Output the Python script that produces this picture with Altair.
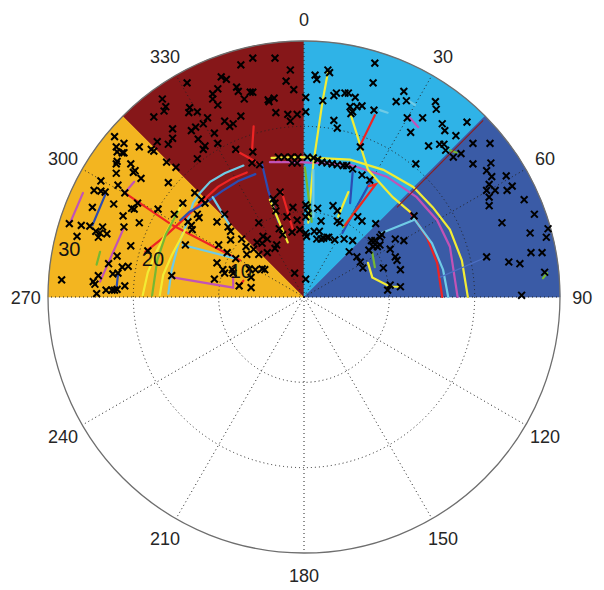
import math
import altair as alt
import pandas as pd

# ---------------- data ----------------
R_MAX = 30
RINGS = [10, 20]
SPOKE_ANGLES = list(range(0, 360, 30))
ANGLE_LABEL_R = 32.6

SECTOR_NAME = ["W-NW", "NW-N", "N-NE", "NE-E"]
SECTOR_START = [270, 315, 0, 45]
SECTOR_END = [315, 360, 45, 90]
SECTOR_COLOR = ["#F3B520", "#861719", "#2FB3E7", "#3A5BA6"]

RING_LABEL_TEXT = ["10", "20", "30"]
RING_LABEL_EAST = [-7.4, -17.7, -27.5]
RING_LABEL_NORTH = [2.9, 4.3, 5.5]

# detections (east, north) in range units
PT_EAST = [
    -22.2, -21.1, -22.0, -21.9, -21.3, -21.1, -19.3, -17.9, -17.6, -21.9,
    -22.0, -20.3, -20.0, -19.8, -22.0, -19.1, -23.8, -21.8, -15.9, -24.6,
    -23.8, -23.3, -21.0, -19.5, -22.3, -20.2, -19.9, -17.1, -24.8, -21.2,
    -27.5, -26.1, -25.1, -23.6, -24.4, -23.9, -23.1, -21.1, -19.3, -26.6,
    -24.1, -20.3, -18.3, -21.9, -22.9, -21.3, -20.6, -22.4, -21.8, -24.1,
    -24.7, -24.5, -28.4, -21.0, -23.2, -22.5, -22.2, -21.9, -24.3,
    -16.1, -15.0, -12.8, -14.2, -12.0, -11.6, -15.2, -12.5, -12.3, -13.6,
    -13.2, -13.1, -10.2, -8.9, -8.6, -8.6, -7.3, -10.0, -6.8, -13.9,
    -6.7, -9.0, -8.0, -10.2, -9.5, -9.3, -8.4, -8.3, -6.4, -5.7,
    -4.9, -4.6, -6.2, -10.5, -7.6, -6.2, -15.5,
    -6.0, -3.4, -7.4, -1.6, -2.1, -13.7, -9.7, -9.1, -7.9, -7.7,
    -10.1, -6.3, -6.0, -1.2, -10.7, -10.7, -7.0, -4.2, -4.1, -3.5,
    -16.6, -16.2, -16.4, -13.4, -10.1, -12.5, -13.5, -3.3, -1.9, -0.8,
    -7.4, -17.6, -11.3, -9.3, -8.3, -8.7, -11.8, -12.7, -13.2, -15.4,
    -10.5, -1.6, -15.4, -12.4, -17.2, -15.9, -10.1, -11.6, -11.8, -8.0,
    -6.0, -12.5, -6.1, -5.2, -3.0, -2.3, -1.5, -0.7, -1.4, -0.8,
    -2.8, -3.4, -3.6, -1.3, -3.3, -2.0, -5.3, -5.5, -4.8, -4.3,
    -4.9, -2.9, -2.5, -1.4, -0.5, -3.2, -3.4, -5.9, -5.3, -4.3,
    -1.1, -9.3, -0.8,
    8.3, 0.2, 0.2, 1.3, 1.5, 2.8, 3.0, 8.1, 2.2, 3.5,
    3.8, 4.8, 5.2, 6.0, 5.4, 5.7, 5.5, 6.2, 6.8, 8.2,
    3.5, 3.9, 6.6, 11.7, 10.8, 12.0, 12.1, 13.9, 12.5, 14.6,
    15.4, 15.5, 13.1, 16.2, 16.5, 17.8, 15.9, 16.4, 16.6, 17.5,
    18.4, 19.1, 0.4, 1.1, 1.6, 2.1, 2.7, 3.3, 3.9, 4.6,
    5.0, 5.7, 6.8, 7.7, 0.2, 0.4, 1.6, 0.5, 3.4, 3.9,
    2.0, 3.9, 4.2, 6.3, 6.8, 8.4, 0.2, 0.3, 1.2, 1.8,
    1.5, 2.0, 2.3, 2.7, 2.9, 3.6, 4.7, 5.7, 0.2, 0.2,
    5.3, 7.9, 8.3, 8.9, 9.1, 8.1, 8.6, 8.9, 10.7, 11.7,
    10.1, 7.6, 10.7, 10.9, 6.2, 6.6, 9.3, 6.9, 11.3, 10.1,
    9.8, 11.3, 12.9, 19.8, 21.8, 19.8, 21.9, 21.4, 22.0, 23.7,
    21.7, 21.4, 22.4, 24.4, 23.8, 21.7, 21.7, 25.8, 27.0, 23.2,
    28.6, 28.4, 26.5, 26.6, 27.9, 21.4, 24.0, 25.3, 28.2, 25.5,
]
PT_NORTH = [
    18.8, 18.0, 17.6, 17.0, 16.9, 16.9, 17.6, 17.3, 17.1, 15.9,
    15.6, 15.6, 14.6, 14.8, 14.5, 13.9, 13.6, 13.1, 13.4, 12.5,
    12.4, 12.3, 12.2, 11.0, 10.9, 10.4, 10.3, 10.3, 10.5, 9.5,
    8.6, 8.4, 8.3, 8.2, 7.7, 7.5, 7.4, 8.2, 8.7, 7.1,
    7.0, 6.0, 5.4, 4.8, 3.9, 3.5, 3.6, 2.7, 2.8, 2.5,
    1.8, 1.5, 2.0, 1.3, 0.8, 0.8, 0.8, 0.9, 0.4,
    15.8, 15.2, 12.2, 11.0, 11.4, 11.0, 9.7, 9.7, 9.3, 8.8,
    8.4, 7.9, 8.8, 8.2, 7.7, 6.7, 6.8, 6.1, 5.9, 6.1,
    5.0, 5.2, 4.5, 4.0, 3.2, 2.8, 3.2, 2.8, 3.3, 3.2,
    3.3, 3.2, 2.3, 2.1, 1.3, 1.1, 2.5,
    28.0, 28.0, 27.2, 26.6, 25.3, 25.1, 25.8, 25.5, 24.6, 24.1,
    24.4, 24.0, 24.0, 24.3, 23.8, 23.2, 23.2, 23.1, 22.9, 23.3,
    23.2, 22.3, 21.8, 22.2, 22.5, 21.7, 21.6, 21.6, 21.4, 21.4,
    21.2, 21.1, 21.0, 20.6, 20.3, 20.0, 20.3, 19.9, 19.5, 19.7,
    19.2, 20.6, 18.6, 18.5, 18.2, 17.9, 18.0, 17.7, 17.3, 17.3,
    17.0, 16.2, 15.7, 15.5, 16.4, 16.4, 16.4, 16.4, 15.7, 15.7,
    12.3, 11.0, 11.5, 10.5, 10.1, 9.4, 8.7, 6.4, 7.1, 6.8,
    6.3, 8.0, 7.3, 7.6, 7.9, 6.1, 5.7, 5.6, 5.0, 5.2,
    2.8, 9.7, 9.0,
    27.4, 23.4, 21.7, 26.0, 25.5, 26.6, 26.3, 25.1, 23.0, 23.6,
    23.9, 23.9, 23.9, 23.4, 22.3, 21.7, 21.5, 22.3, 22.4, 21.9,
    20.7, 19.8, 17.6, 24.1, 22.9, 23.0, 21.0, 21.0, 19.3, 17.7,
    22.9, 22.0, 15.6, 20.3, 19.5, 18.9, 17.9, 17.9, 17.2, 16.4,
    16.8, 20.5, 16.4, 16.3, 16.1, 15.8, 15.7, 15.6, 15.5, 15.4,
    15.4, 15.0, 14.3, 13.7, 10.8, 10.5, 10.4, 9.8, 10.7, 10.1,
    8.9, 8.9, 8.7, 9.4, 8.9, 8.6, 7.5, 7.1, 7.7, 7.7,
    6.8, 6.8, 6.9, 7.0, 7.0, 6.7, 6.8, 6.6, 2.1, 9.4,
    5.3, 6.6, 6.6, 7.0, 7.3, 5.9, 5.9, 6.1, 6.8, 6.6,
    5.6, 5.5, 4.7, 4.3, 4.7, 4.1, 3.4, 3.4, 3.2, 1.4,
    0.8, 1.2, 9.5, 18.0, 18.0, 15.6, 15.7, 14.8, 14.1, 14.2,
    13.2, 12.5, 12.5, 13.0, 12.5, 11.7, 10.7, 11.4, 9.7, 8.7,
    8.0, 7.0, 7.5, 5.2, 5.2, 4.7, 4.1, 3.9, 2.9, 0.2,
]

# tracks: colour, east values, north values
TRACK_COLOR = [
    "cyan", "red", "blue", "red", "yellow", "green", "yellow", "cyan", "cyan", "magenta",
    "red", "magenta", "blue", "magenta", "magenta", "green", "blue", "yellow", "magenta", "red",
    "cyan", "cyan", "yellow", "green", "cyan", "yellow", "red", "cyan", "cyan", "magenta",
    "green", "darkred", "steel", "yellow", "green", "blue", "blue", "green", "yellow", "red",
    "green", "blue", "yellow", "red", "red", "red",
]
TRACK_EAST = [
    [-7.1, -9.3, -11.0, -12.2, -13.0, -13.7, -14.8, -15.5, -15.9],
    [-18.6, -16.3, -13.9, -11.4, -10.1, -8.4, -6.7],
    [-5.7, -7.7, -9.6, -11.0, -12.4, -13.4, -14.5],
    [-21.0, -15.4, -7.5],
    [-14.2, -15.7, -17.2, -18.3, -18.9],
    [-14.8, -16.2, -17.2, -17.8],
    [-13.9, -15.5, -16.5, -16.9],
    [-10.7, -8.7],
    [-14.2, -8.0],
    [-15.4, -8.3, -8.3],
    [-7.5, -7.1],
    [-25.9, -27.4],
    [-23.2, -24.8],
    [-19.9, -21.0],
    [-21.2, -23.9],
    [-23.9, -24.3],
    [-21.8, -22.0],
    [-3.8, -0.5, 5.4, 9.3, 12.8, 15.1, 17.1, 18.5, 19.2],
    [-4.0, -0.5, 5.4, 9.7, 13.2, 15.6, 17.1, 18.0],
    [12.4, 14.4, 15.6, 16.2],
    [12.8, 15.0, 16.3, 16.9],
    [9.1, 12.8],
    [2.8, 2.2, 1.1, 0.5],
    [0.1, 0.9],
    [1.1, 1.1],
    [5.4, 7.5, 10.4, 12.4],
    [8.3, 6.6],
    [8.9, 9.8],
    [12.1, 13.0],
    [12.4, 13.4],
    [17.1, 17.9],
    [10.9, 21.0],
    [15.9, 21.4],
    [7.5, 8.0, 10.1, 11.3],
    [8.0, 8.3],
    [5.7, 5.4],
    [8.0, 4.5],
    [6.8, 4.6],
    [5.2, 4.0],
    [7.6, 8.4, 4.8],
    [28.5, 28.0],
    [-4.9, -4.2, -3.0],
    [-4.0, -1.9],
    [-2.6, -1.3],
    [-7.9, -5.2],
    [-5.9, -6.1],
]
TRACK_NORTH = [
    [15.4, 14.5, 13.5, 12.2, 11.0, 8.7, 5.9, 3.2, 0.4],
    [5.3, 7.1, 9.3, 11.7, 12.9, 13.9, 14.6],
    [14.4, 13.6, 12.4, 11.4, 10.5, 10.0, 9.0],
    [12.2, 8.4, 4.3],
    [11.0, 8.4, 5.5, 2.9, 0.2],
    [10.0, 7.3, 4.3, 0.2],
    [7.9, 4.9, 2.6, 0.2],
    [11.7, 8.4],
    [6.1, 4.5],
    [2.3, 1.1, 2.3],
    [1.4, 1.9],
    [12.2, 8.7],
    [12.2, 8.4],
    [13.5, 12.2],
    [7.9, 1.8],
    [5.3, 3.8],
    [2.6, 0.8],
    [16.3, 16.4, 16.1, 14.9, 12.9, 10.5, 7.9, 4.3, 0.0],
    [15.8, 15.8, 15.5, 14.1, 11.7, 9.0, 5.9, 0.0],
    [10.0, 7.0, 4.0, 0.0],
    [9.3, 6.3, 3.2, 0.0],
    [7.5, 9.0],
    [26.3, 23.1, 15.7, 8.7],
    [15.2, 8.8],
    [14.9, 9.4],
    [21.6, 14.9, 11.7, 10.0],
    [21.3, 17.8],
    [21.9, 21.6],
    [23.1, 22.5],
    [21.0, 19.9],
    [17.2, 16.9],
    [10.5, 20.7],
    [2.3, 4.7],
    [4.0, 2.3, 1.2, 1.2],
    [5.2, 3.5],
    [14.6, 11.0],
    [13.9, 7.5],
    [11.1, 8.2],
    [12.3, 9.4],
    [13.0, 13.2, 8.4],
    [2.8, 2.2],
    [15.5, 12.5, 8.8],
    [11.4, 6.4],
    [12.3, 7.9],
    [17.1, 15.6],
    [20.0, 17.0],
]
TRACK_NAMES = ["red", "yellow", "cyan", "blue", "magenta", "green", "darkred", "steel"]
TRACK_RGB = ["#EE2424", "#F2EC34", "#6FCBE6", "#2C4CB2", "#C253B6", "#76B832", "#8E1C1C", "#4D70C4"]
THIN_TRACKS = ["darkred", "steel"]

# ---------------- tables ----------------
sectors = pd.DataFrame({"name": SECTOR_NAME, "a0": SECTOR_START, "a1": SECTOR_END, "r": R_MAX})
rings = pd.DataFrame({"r": RINGS, "a0": 0, "a1": 360})
outer = pd.DataFrame({"r": [R_MAX], "a0": [0], "a1": [360]})
spokes = pd.DataFrame({"a": SPOKE_ANGLES})
spokes["x0"] = 0.0
spokes["y0"] = 0.0
spokes["x1"] = [R_MAX * math.sin(math.radians(a)) for a in SPOKE_ANGLES]
spokes["y1"] = [R_MAX * math.cos(math.radians(a)) for a in SPOKE_ANGLES]
alabels = pd.DataFrame({
    "t": [str(a) for a in SPOKE_ANGLES],
    "x": [ANGLE_LABEL_R * math.sin(math.radians(a)) for a in SPOKE_ANGLES],
    "y": [ANGLE_LABEL_R * math.cos(math.radians(a)) for a in SPOKE_ANGLES],
})
rlabels = pd.DataFrame({"t": RING_LABEL_TEXT, "x": RING_LABEL_EAST, "y": RING_LABEL_NORTH})
points = pd.DataFrame({"e": PT_EAST, "n": PT_NORTH})

rows = []
for tid, (c, es, ns) in enumerate(zip(TRACK_COLOR, TRACK_EAST, TRACK_NORTH)):
    for i, (e, n) in enumerate(zip(es, ns)):
        rows.append({"tid": tid, "i": i, "e": e, "n": n, "c": c})
tracks = pd.DataFrame(rows)
thick = tracks[~tracks["c"].isin(THIN_TRACKS)]
thin = tracks[tracks["c"].isin(THIN_TRACKS)]

# ---------------- scales ----------------
xs = alt.Scale(domain=[-R_MAX, R_MAX], nice=False, zero=False)
ys = alt.Scale(domain=[-R_MAX, R_MAX], nice=False, zero=False)
ts = alt.Scale(domain=[0, 360], range=[0, 2 * math.pi])
rs = alt.Scale(type="linear", domain=[0, R_MAX], range=[0, 256], zero=True)
sec_scale = alt.Scale(domain=SECTOR_NAME, range=SECTOR_COLOR)
trk_scale = alt.Scale(domain=TRACK_NAMES, range=TRACK_RGB)

FONT = "Liberation Sans"

sector_layer = alt.Chart(sectors).mark_arc(strokeWidth=0.6).encode(
    theta=alt.Theta("a0:Q", scale=ts),
    theta2=alt.Theta2("a1:Q"),
    radius=alt.Radius("r:Q", scale=rs),
    fill=alt.Fill("name:N", scale=sec_scale, legend=None),
    stroke=alt.Stroke("name:N", scale=sec_scale, legend=None),
)

ring_layer = alt.Chart(rings).mark_arc(
    fillOpacity=0, stroke="#222222", strokeWidth=1, strokeDash=[1, 3]
).encode(
    theta=alt.Theta("a0:Q", scale=ts),
    theta2=alt.Theta2("a1:Q"),
    radius=alt.Radius("r:Q", scale=rs),
)

spoke_layer = alt.Chart(spokes).mark_rule(
    color="#222222", strokeWidth=1, strokeDash=[1, 3]
).encode(
    x=alt.X("x0:Q", scale=xs, axis=None),
    y=alt.Y("y0:Q", scale=ys, axis=None),
    x2="x1:Q",
    y2="y1:Q",
)

outer_layer = alt.Chart(outer).mark_arc(
    fillOpacity=0, stroke="#6e6e6e", strokeWidth=1.3
).encode(
    theta=alt.Theta("a0:Q", scale=ts),
    theta2=alt.Theta2("a1:Q"),
    radius=alt.Radius("r:Q", scale=rs),
)

track_layer = alt.Chart(thick).mark_line(strokeWidth=2.2, strokeCap="round").encode(
    x=alt.X("e:Q", scale=xs, axis=None),
    y=alt.Y("n:Q", scale=ys, axis=None),
    detail="tid:N",
    order="i:Q",
    color=alt.Color("c:N", scale=trk_scale, legend=None),
)

thin_layer = alt.Chart(thin).mark_line(strokeWidth=1.1).encode(
    x=alt.X("e:Q", scale=xs, axis=None),
    y=alt.Y("n:Q", scale=ys, axis=None),
    detail="tid:N",
    order="i:Q",
    color=alt.Color("c:N", scale=trk_scale, legend=None),
)

point_layer = alt.Chart(points).mark_point(
    shape="M-1,-1L1,1M1,-1L-1,1", filled=False, color="black",
    strokeWidth=2, size=46, opacity=1,
).encode(
    x=alt.X("e:Q", scale=xs, axis=None),
    y=alt.Y("n:Q", scale=ys, axis=None),
)

rlabel_layer = alt.Chart(rlabels).mark_text(
    font=FONT, fontSize=20, color="#111111", align="center", baseline="middle"
).encode(
    x=alt.X("x:Q", scale=xs, axis=None),
    y=alt.Y("y:Q", scale=ys, axis=None),
    text="t:N",
)

alabel_layer = alt.Chart(alabels).mark_text(
    font=FONT, fontSize=18, color="#262626", align="center", baseline="middle", dy=2
).encode(
    x=alt.X("x:Q", scale=xs, axis=None),
    y=alt.Y("y:Q", scale=ys, axis=None),
    text="t:N",
)

chart = alt.layer(
    sector_layer, ring_layer, spoke_layer, outer_layer,
    track_layer, thin_layer, point_layer, rlabel_layer, alabel_layer,
).properties(
    width=512,
    height=512,
    autosize=alt.AutoSizeParams(type="none"),
    padding={"left": 40, "top": 33, "right": 36, "bottom": 34},
).configure_view(strokeWidth=0)

chart.save("out.html", embed_options={"renderer": "svg", "actions": False})
